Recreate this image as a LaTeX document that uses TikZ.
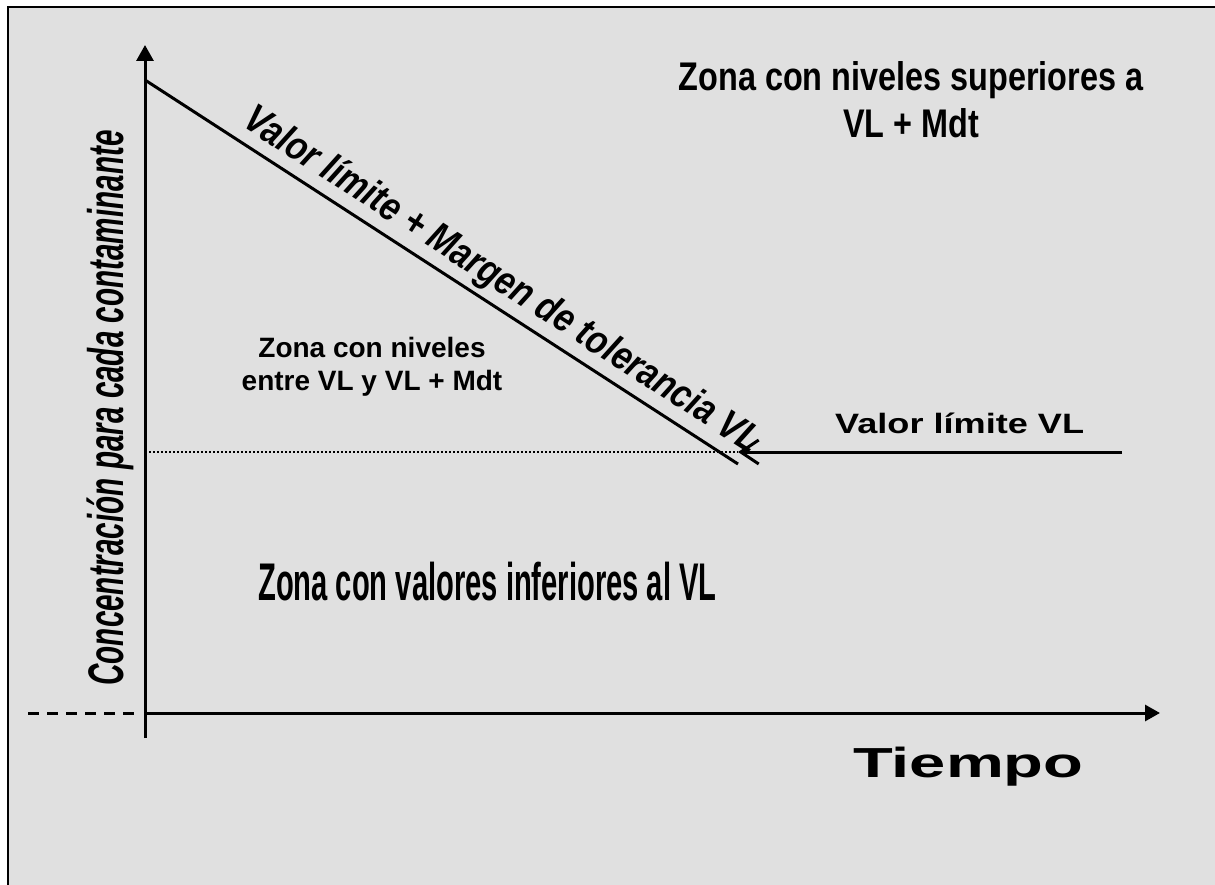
\documentclass[tikz,border=0pt]{standalone}
\usepackage{fontspec}
\setmainfont{Liberation Sans}
\usepackage{graphicx}
\usetikzlibrary{arrows.meta}
\definecolor{bggray}{HTML}{E0E0E0}
\newcommand\sxbox[2]{\scalebox{#1}[1]{#2}}
\begin{document}
\begin{tikzpicture}[x=1pt,y=-1pt,
  axis/.style={line width=3pt},
  txt/.style={inner sep=0pt,font=\bfseries},
  every node/.style={text=black}]
\useasboundingbox (0,0) rectangle (1215,885);
\clip (0,0) rectangle (1215,885);
\fill[white] (0,0) rectangle (1215,885);
\draw[line width=2pt,fill=bggray] (8,7) rectangle (1230,900);

% coordinates
\coordinate (O) at (145,713);
\coordinate (ytop) at (145,45);
\coordinate (ybot) at (145,738);
\coordinate (xend) at (1160,713);
\coordinate (dA) at (28,713);
\coordinate (dB) at (135,713);
\coordinate (d1) at (145,80);
\coordinate (d2) at (738,464);
\coordinate (vl1) at (1122,452);
\coordinate (vl2) at (738,452);
\coordinate (dot1) at (145,452);

% axes
\draw[axis,-{Triangle[length=16pt,width=17pt]}] (ybot) -- (ytop);
\draw[axis,-{Triangle[length=15pt,width=16pt]}] (O) -- (xend);
\draw[axis,dash pattern=on 11pt off 8pt] (dA) -- (dB);

% diagonal and limit lines
\draw[axis] (d1) -- (d2);
\draw[line width=1.5pt,dash pattern=on 1.5pt off 2.5pt] (dot1) -- (vl2);
\draw[axis,-{Straight Barb[length=18pt,width=24pt,line width=3pt]}] (vl1) -- (vl2);

% texts
\node[txt,align=center,font=\bfseries\fontsize{40}{47}\selectfont] (zsup) at (911,100)
  {\sxbox{0.81}{Zona con niveles superiores a}\\\sxbox{0.81}{VL + Mdt}};
\node[txt,align=center,font=\bfseries\fontsize{28}{33}\selectfont] (zmid) at (372,367)
  {Zona con niveles\\entre VL y VL + Mdt};
\node[txt,anchor=base west,font=\bfseries\fontsize{53}{60}\selectfont] (zinf) at (258,600)
  {\sxbox{0.55}{Zona con valores inferiores al VL}};
\node[txt,anchor=base west,font=\bfseries\fontsize{28}{33}\selectfont] (vllab) at (835,433)
  {\sxbox{1.29}{Valor límite VL}};
\node[txt,anchor=base west,font=\bfseries\fontsize{42}{48}\selectfont] (tiempo) at (853,777)
  {\sxbox{1.55}{Tiempo}};
\node[txt,anchor=base,rotate=90,font=\bfseries\itshape\fontsize{50}{56}\selectfont] (ylab) at (123,408)
  {\sxbox{0.593}{Concentración para cada contaminante}};
\node[txt,anchor=base,rotate=-32.8,font=\bfseries\itshape\fontsize{40}{46}\selectfont] (diag) at (496,290)
  {\sxbox{0.84}{Valor límite + Margen de tolerancia VL}};
\end{tikzpicture}
\end{document}
